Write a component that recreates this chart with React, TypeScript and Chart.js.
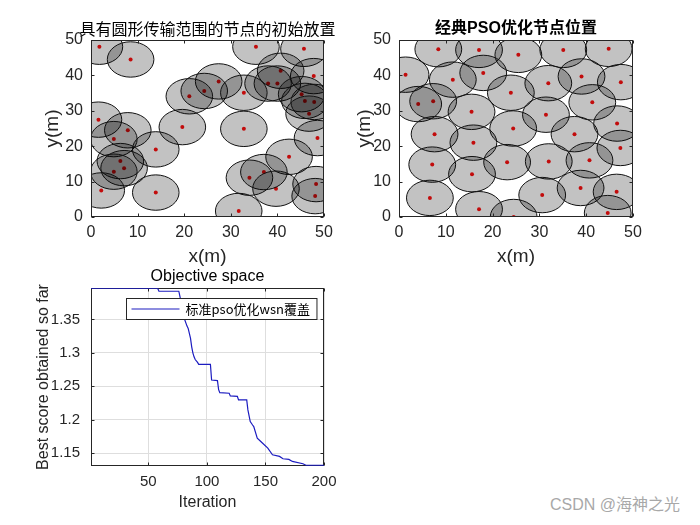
import React, { useEffect, useRef } from 'react';
import { Chart, registerables } from 'chart.js';

Chart.register(...registerables);

// ---------------- data ----------------
const sensingRadius = 5;
const axisTicks = [0, 10, 20, 30, 40, 50];

const initX = [1.8, 8.5, 35.4, 45.7, 47.8, 40.7, 38.0, 40.0, 27.4, 24.3, 21.1, 32.8, 45.2, 45.9, 47.9, 46.8, 48.6, 1.6, 7.9, 4.9, 19.6, 32.8, 13.9, 6.3, 7.1, 4.9, 2.2, 13.9, 42.5, 37.1, 34.0, 39.7, 48.3, 48.1, 31.7];
const initY = [48.1, 44.5, 48.1, 47.5, 39.8, 41.3, 37.7, 37.7, 38.3, 35.6, 34.1, 35.1, 34.7, 32.8, 32.5, 29.2, 22.3, 27.5, 24.5, 22.0, 25.4, 24.9, 19.1, 15.8, 13.8, 12.8, 7.5, 6.9, 17.0, 12.7, 11.1, 8.0, 9.3, 5.9, 1.7];

const psoX = [8.4, 17.1, 25.5, 35.1, 44.8, 1.4, 11.5, 18.0, 31.9, 39.0, 47.4, 23.9, 4.1, 7.3, 15.5, 31.4, 41.3, 7.6, 15.9, 24.4, 37.5, 46.6, 47.3, 7.1, 15.6, 23.1, 32.0, 40.7, 6.6, 17.1, 24.5, 30.6, 38.8, 46.5, 44.6];
const psoY = [47.4, 47.2, 45.8, 47.2, 47.5, 40.2, 38.8, 40.7, 37.8, 39.7, 38.1, 35.1, 31.9, 32.7, 29.7, 28.9, 32.4, 23.4, 21.0, 25.0, 23.4, 26.4, 19.5, 14.8, 12.1, 15.5, 15.7, 16.0, 5.4, 2.2, 0.0, 6.2, 8.2, 7.1, 1.1];

const iterations = [1, 58, 59, 76, 77, 78, 79, 80, 81, 83, 84, 85, 86, 87, 88, 89, 90, 92, 93, 103, 104, 109, 110, 111, 119, 120, 126, 127, 134, 135, 137, 139, 140, 143, 146, 152, 156, 162, 165, 170, 173, 182, 185, 200];
const bestScore = [1.3963, 1.3963, 1.3922, 1.3922, 1.384, 1.375, 1.362, 1.352, 1.35, 1.34, 1.3366, 1.329, 1.3216, 1.309, 1.3, 1.294, 1.29, 1.2858, 1.2828, 1.2828, 1.2594, 1.2584, 1.245, 1.2405, 1.2395, 1.2355, 1.235, 1.2296, 1.2296, 1.2146, 1.1972, 1.192, 1.1897, 1.1724, 1.1673, 1.1575, 1.1475, 1.145, 1.1415, 1.1405, 1.1375, 1.134, 1.1315, 1.1315];
const iterRange = [1, 200];
const scoreRange = [1.1311, 1.3966];
const iterTicks = [50, 100, 150, 200];
const scoreTicks = [1.15, 1.2, 1.25, 1.3, 1.35];

const title1 = '具有圆形传输范围的节点的初始放置';
const title2 = '经典PSO优化节点位置';
const title3 = 'Objective space';
const legendLabel = '标准pso优化wsn覆盖';
const watermark = 'CSDN @海神之光';

// ---------------- styles ----------------
const SANS = '"Liberation Sans", Arial, "Noto Sans CJK SC", sans-serif';
const CJK = '"Noto Sans CJK SC", "Liberation Sans", sans-serif';
const AX = '#262626';

function drawBox(chart: any) {
  const { ctx, chartArea: a, scales } = chart;
  const L = Math.round(a.left) + 0.5;
  const R = Math.round(a.right) - 0.5;
  const T = Math.round(a.top) + 0.5;
  const B = Math.round(a.bottom) - 0.5;
  ctx.save();
  ctx.strokeStyle = AX;
  ctx.lineWidth = 1;
  ctx.beginPath();
  const tl = 3;
  scales.x.ticks.forEach((t: any) => {
    const p = Math.round(scales.x.getPixelForValue(t.value)) + 0.5;
    ctx.moveTo(p, B); ctx.lineTo(p, B - tl);
    ctx.moveTo(p, T); ctx.lineTo(p, T + tl);
  });
  scales.y.ticks.forEach((t: any) => {
    const p = Math.round(scales.y.getPixelForValue(t.value)) + 0.5;
    ctx.moveTo(L, p); ctx.lineTo(L + tl, p);
    ctx.moveTo(R, p); ctx.lineTo(R - tl, p);
  });
  ctx.stroke();
  ctx.strokeRect(L, T, R - L, B - T);
  ctx.restore();
}

const boxAfterPlugin = { id: 'matlabBoxAfter', afterDraw(chart: any) { drawBox(chart); } };
const boxBeforePlugin = { id: 'matlabBoxBefore', beforeDatasetsDraw(chart: any) { drawBox(chart); } };

// let a title centred over the plot area overflow it (like MATLAB) instead of being squeezed
const wideTitlePlugin = {
  id: 'wideTitle',
  afterLayout(chart: any) {
    const t = chart.titleBlock;
    if (t) { t.left -= 60; t.right += 60; t.width += 120; }
  },
};

function circlesPlugin(xs: number[], ys: number[], r: number) {
  return {
    id: 'coverageCircles',
    afterDatasetsDraw(chart: any) {
      const { ctx, chartArea: a, scales } = chart;
      const sx = scales.x;
      const sy = scales.y;
      ctx.save();
      ctx.beginPath();
      ctx.rect(a.left, a.top, a.right - a.left, a.bottom - a.top);
      ctx.clip();
      for (let i = 0; i < xs.length; i++) {
        const cx = sx.getPixelForValue(xs[i]);
        const cy = sy.getPixelForValue(ys[i]);
        const rx = Math.abs(sx.getPixelForValue(xs[i] + r) - cx);
        const ry = Math.abs(sy.getPixelForValue(ys[i] + r) - cy);
        ctx.beginPath();
        ctx.ellipse(cx, cy, rx, ry, 0, 0, Math.PI * 2);
        ctx.fillStyle = 'rgba(0,0,0,0.24)';
        ctx.fill();
        ctx.lineWidth = 1;
        ctx.strokeStyle = '#111';
        ctx.stroke();
      }
      ctx.restore();
    },
  };
}

const legendPlugin = {
  id: 'matlabLegend',
  afterDraw(chart: any) {
    const { ctx, chartArea: a } = chart;
    const ds = chart.data.datasets[0];
    ctx.save();
    ctx.font = '13px ' + CJK;
    const tw = ctx.measureText(ds.label).width;
    const lineLen = 48;
    const w = 5 + lineLen + 6 + tw + 7;
    const h = 21;
    const x = Math.round(a.right - 8 - w) + 0.5;
    const y = Math.round(a.top + 10) + 0.5;
    ctx.fillStyle = '#fff';
    ctx.fillRect(x, y, w, h);
    ctx.strokeStyle = AX;
    ctx.lineWidth = 1;
    ctx.strokeRect(x, y, w, h);
    ctx.beginPath();
    ctx.strokeStyle = ds.borderColor;
    ctx.lineWidth = 1.2;
    ctx.moveTo(x + 5, y + h / 2);
    ctx.lineTo(x + 5 + lineLen, y + h / 2);
    ctx.stroke();
    ctx.fillStyle = '#000';
    ctx.textBaseline = 'middle';
    ctx.textAlign = 'left';
    ctx.fillText(ds.label, x + 5 + lineLen + 6, y + h / 2 + 0.5);
    ctx.restore();
  },
};

function nodeConfig(xs: number[], ys: number[], title: string, titleFont: any, padLeft: number, padRight: number, yWidth: number) {
  return {
    type: 'scatter',
    data: {
      datasets: [{
        data: xs.map((x, i) => ({ x, y: ys[i] })),
        pointRadius: 2,
        pointBackgroundColor: '#ff1010',
        pointBorderWidth: 0,
        pointHoverRadius: 2,
      }],
    },
    options: {
      responsive: false,
      animation: false,
      events: [],
      layout: { padding: { left: padLeft, right: padRight, top: 0, bottom: 2 } },
      plugins: {
        legend: { display: false },
        tooltip: { enabled: false },
        title: { display: true, fullSize: false, text: title, color: '#000', font: titleFont, padding: { top: 19.4, bottom: 1.4 } },
      },
      scales: {
        x: {
          type: 'linear', min: 0, max: 50,
          afterBuildTicks: (s: any) => { s.ticks = axisTicks.map((v) => ({ value: v })); },
          afterFit: (s: any) => { s.height = 51; },
          grid: { display: false, drawTicks: false },
          border: { display: false },
          ticks: { color: AX, font: { family: SANS, size: 16 }, padding: 6, maxRotation: 0, autoSkip: false },
          title: { display: true, text: 'x(m)', color: AX, font: { family: SANS, size: 19 }, padding: 0 },
        },
        y: {
          type: 'linear', min: 0, max: 50,
          afterBuildTicks: (s: any) => { s.ticks = axisTicks.map((v) => ({ value: v })); },
          afterFit: (s: any) => { s.width = yWidth; },
          grid: { display: false, drawTicks: false },
          border: { display: false },
          ticks: { color: AX, font: { family: SANS, size: 16 }, padding: 8, autoSkip: false },
          title: { display: true, text: 'y(m)', color: AX, font: { family: SANS, size: 19 }, padding: 0 },
        },
      },
    },
    plugins: [wideTitlePlugin, circlesPlugin(xs, ys, sensingRadius), boxAfterPlugin],
  };
}

function curveConfig() {
  return {
    type: 'line',
    data: {
      datasets: [{
        label: legendLabel,
        data: iterations.map((x, i) => ({ x, y: bestScore[i] })),
        borderColor: '#1c1cc0',
        borderWidth: 1.2,
        pointRadius: 0,
        tension: 0,
        fill: false,
      }],
    },
    options: {
      responsive: false,
      animation: false,
      events: [],
      layout: { padding: { left: 34, right: 26, top: 0, bottom: 12.7 } },
      plugins: {
        legend: { display: false },
        tooltip: { enabled: false },
        title: { display: true, fullSize: false, text: title3, color: '#000', font: { family: SANS, size: 16, weight: 'normal' }, padding: { top: 5.1, bottom: 2.0 } },
      },
      scales: {
        x: {
          type: 'linear', min: iterRange[0], max: iterRange[1],
          afterBuildTicks: (s: any) => { s.ticks = iterTicks.map((v) => ({ value: v })); },
          afterFit: (s: any) => { s.height = 46.6; },
          grid: { display: true, drawTicks: false, color: '#dedede', lineWidth: 1 },
          border: { display: false },
          ticks: { color: AX, font: { family: SANS, size: 15 }, padding: 7, maxRotation: 0, autoSkip: false },
          title: { display: true, text: 'Iteration', color: AX, font: { family: SANS, size: 16 }, padding: 0 },
        },
        y: {
          type: 'linear', min: scoreRange[0], max: scoreRange[1],
          afterBuildTicks: (s: any) => { s.ticks = scoreTicks.map((v) => ({ value: v })); },
          afterFit: (s: any) => { s.width = 57; },
          grid: { display: true, drawTicks: false, color: '#dedede', lineWidth: 1 },
          border: { display: false },
          ticks: { color: AX, font: { family: SANS, size: 15 }, padding: 11, autoSkip: false, callback: (v: any) => String(Number(v)) },
          title: { display: true, text: 'Best score obtained so far', color: AX, font: { family: SANS, size: 16 }, padding: 0 },
        },
      },
    },
    plugins: [wideTitlePlugin, boxBeforePlugin, legendPlugin],
  };
}

export default function App() {
  const r1 = useRef<HTMLCanvasElement>(null);
  const r2 = useRef<HTMLCanvasElement>(null);
  const r3 = useRef<HTMLCanvasElement>(null);

  useEffect(() => {
    const c1 = new Chart(r1.current as any, nodeConfig(initX, initY, title1, { family: CJK, size: 16, weight: 'normal' }, 41, 26, 50) as any);
    const c2 = new Chart(r2.current as any, nodeConfig(psoX, psoY, title2, { family: SANS, size: 16, weight: 'bold' }, 3, 67, 46) as any);
    const c3 = new Chart(r3.current as any, curveConfig() as any);
    return () => { c1.destroy(); c2.destroy(); c3.destroy(); };
  }, []);

  return (
    <div style={{ position: 'absolute', left: 0, top: 0, width: 700, height: 525, background: '#fff', overflow: 'hidden' }}>
      <canvas ref={r1} width={350} height={270} style={{ position: 'absolute', left: 0, top: 0 }} />
      <canvas ref={r2} width={350} height={270} style={{ position: 'absolute', left: 350, top: 0 }} />
      <canvas ref={r3} width={350} height={263} style={{ position: 'absolute', left: 0, top: 262 }} />
      <div style={{ position: 'absolute', left: 550, top: 495, height: 20, lineHeight: '20px', fontSize: 16, fontFamily: SANS, color: '#a8a8a8', whiteSpace: 'nowrap' }}>{watermark}</div>
    </div>
  );
}
